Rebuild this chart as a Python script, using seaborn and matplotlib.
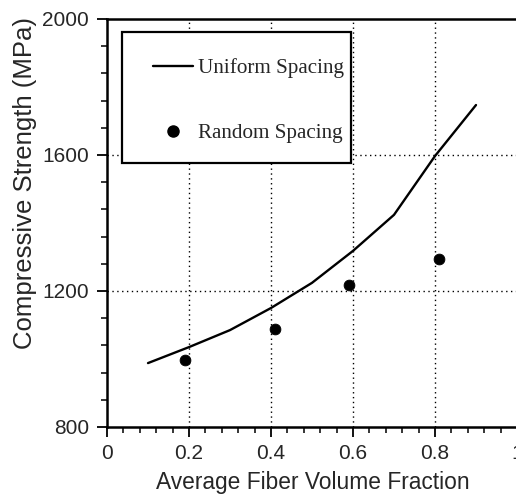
import numpy as np
import pandas as pd
import matplotlib
matplotlib.use("Agg")
import matplotlib.pyplot as plt
from matplotlib.ticker import MultipleLocator, FixedLocator
from matplotlib.lines import Line2D
from matplotlib.patches import Rectangle
import seaborn as sns

# Uniform spacing model curve
uniform_vf = [0.1, 0.2, 0.3, 0.4, 0.5, 0.6, 0.7, 0.8, 0.9]
uniform_strength = [988, 1035, 1085, 1150, 1224, 1318, 1424, 1597, 1747]

# Random spacing results
random_vf = [0.19, 0.41, 0.59, 0.81]
random_strength = [997, 1088, 1218, 1294]

x_ticks = [0, 0.2, 0.4, 0.6, 0.8, 1.0]
x_tick_labels = ["0", "0.2", "0.4", "0.6", "0.8", "1"]
y_ticks = [800, 1200, 1600, 2000]
y_tick_labels = ["800", "1200", "1600", "2000"]

sns.set_theme(style="white")
plt.rcParams["font.family"] = ["Liberation Sans", "DejaVu Sans"]

W, H = 516, 497
fig = plt.figure(figsize=(W / 100, H / 100), dpi=100)
ax = fig.add_axes([107 / W, (H - 427) / H, 410 / W, 408 / H])

df_u = pd.DataFrame({"vf": uniform_vf, "s": uniform_strength})
df_r = pd.DataFrame({"vf": random_vf, "s": random_strength})

sns.lineplot(data=df_u, x="vf", y="s", ax=ax, color="black", linewidth=1.7,
             zorder=3)
sns.scatterplot(data=df_r, x="vf", y="s", ax=ax, color="black", s=60,
                edgecolor="black", zorder=4)

ax.set_xlim(0, 1.0)
ax.set_ylim(800, 2000)
ax.xaxis.set_major_locator(FixedLocator(x_ticks))
ax.set_xticklabels(x_tick_labels)
ax.yaxis.set_major_locator(FixedLocator(y_ticks))
ax.set_yticklabels(y_tick_labels)
ax.xaxis.set_minor_locator(MultipleLocator(0.04))
ax.yaxis.set_minor_locator(MultipleLocator(80))

ax.tick_params(axis="both", which="major", direction="out", length=7,
               width=1.3, color="black", labelsize=15,
               bottom=True, left=True)
ax.tick_params(axis="x", which="major", pad=5)
ax.tick_params(axis="y", which="major", pad=6)
ax.tick_params(axis="both", which="minor", direction="out", length=4,
               width=1.1, color="black", bottom=True, left=True)

for side in ["left", "bottom", "top"]:
    ax.spines[side].set_visible(True)
    ax.spines[side].set_color("black")
    ax.spines[side].set_linewidth(1.8)
ax.spines["right"].set_visible(False)

# dotted reference grid
for gx in [0.2, 0.4, 0.6, 0.8]:
    ax.axvline(gx, color="black", linestyle=(0, (1, 2.5)), linewidth=1.0,
               zorder=1)
for gy in [1200, 1600]:
    ax.axhline(gy, color="black", linestyle=(0, (1, 2.5)), linewidth=1.0,
               zorder=1)

ax.set_xlabel("Average Fiber Volume Fraction", fontsize=16.4, va="center")
ax.xaxis.set_label_coords(0.502, -0.137)
ax.set_ylabel("Compressive Strength (MPa)", fontsize=18.5, va="center")
ax.yaxis.set_label_coords(-0.2, 0.598)

# legend panel: white box with a black border
px = lambda x: (x - 107) / 410
py = lambda y: (427 - y) / 408
ax.add_patch(Rectangle((px(122), py(163)), px(351) - px(122),
                       py(32) - py(163), transform=ax.transAxes,
                       facecolor="white", edgecolor="black", linewidth=1.6,
                       zorder=5, clip_on=False))

handles = [
    Line2D([0], [0], color="black", linewidth=1.7),
    Line2D([0], [0], marker="o", linestyle="none", color="black",
           markersize=8),
]
leg = ax.legend(handles, ["Uniform Spacing", "Random Spacing"],
                loc="upper left",
                bbox_to_anchor=(px(153), py(58)),
                prop={"family": "Liberation Serif", "size": 15.2},
                frameon=False, labelspacing=2.15,
                borderpad=0, handlelength=1.9, handletextpad=0.25,
                borderaxespad=0)
leg.set_zorder(6)

fig.savefig("out.png", dpi=100)
